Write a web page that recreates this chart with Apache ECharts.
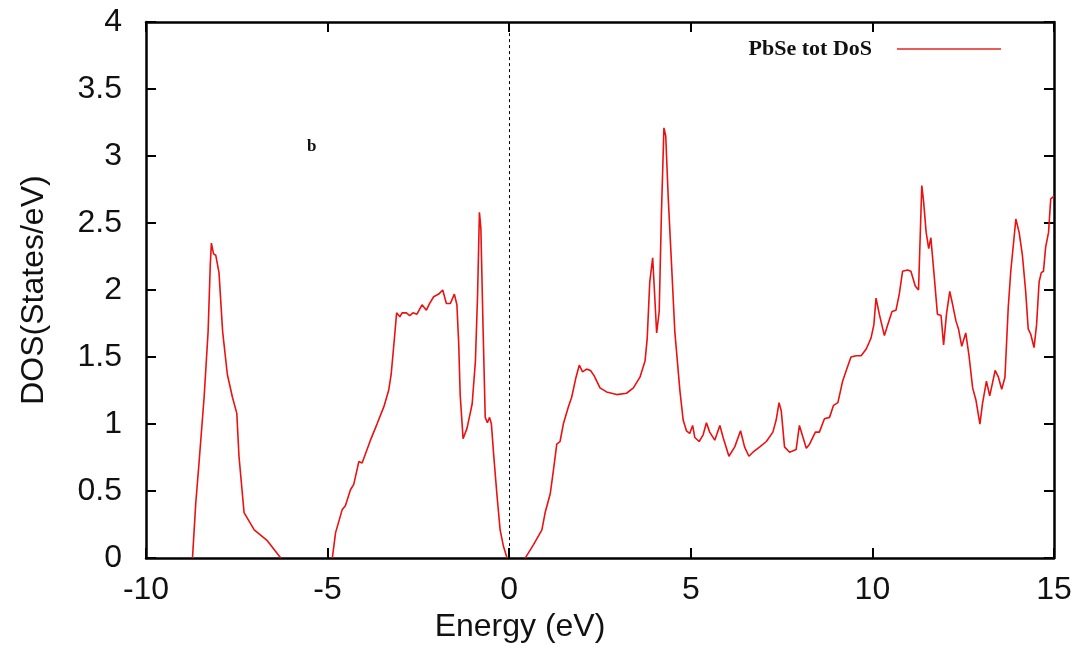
<!DOCTYPE html>
<html>
<head>
<meta charset="utf-8">
<script src="https://cdn.jsdelivr.net/npm/echarts@6/dist/echarts.min.js"></script>
<style>
html,body{margin:0;padding:0;background:#fff;}
#chart{width:1088px;height:648px;}
</style>
</head>
<body>
<div id="chart"></div>
<script>
// Energy (eV) and total DOS (States/eV); null separates band segments
const energy = [
  -8.72,-8.63,-8.54,-8.40,-8.29,-8.23,-8.20,-8.14,-8.08,-7.99,-7.89,-7.76,-7.62,-7.50,-7.44,-7.30,-7.02,-6.66,-6.29,
  -5.60,
  -4.87,-4.78,-4.60,-4.51,-4.37,-4.28,-4.14,-4.05,-3.82,-3.64,-3.45,-3.32,-3.25,-3.16,-3.10,-3.07,-3.01,-2.95,-2.83,-2.74,
  -2.65,-2.54,-2.40,-2.28,-2.19,-2.08,-1.94,-1.83,-1.73,-1.62,-1.51,-1.44,-1.39,-1.35,-1.27,-1.16,-1.02,-0.93,-0.87,-0.82,
  -0.78,-0.72,-0.66,-0.60,-0.54,-0.49,-0.43,-0.34,-0.25,-0.16,-0.06,
  0.20,
  0.44,0.67,0.90,0.99,1.13,1.22,1.31,1.40,1.49,1.63,1.72,1.84,1.93,2.02,2.13,2.24,2.34,2.50,2.68,2.96,
  3.23,3.42,3.60,3.74,3.80,3.87,3.95,3.99,4.06,4.13,4.19,4.26,4.31,4.38,4.47,4.56,4.70,4.79,4.88,4.97,
  5.05,5.11,5.23,5.34,5.43,5.52,5.66,5.80,5.89,6.05,6.21,6.37,6.48,6.60,6.71,6.90,7.08,7.26,7.35,7.43,
  7.49,7.58,7.72,7.90,7.99,8.09,8.18,8.27,8.43,8.54,8.68,8.82,8.93,9.05,9.18,9.28,9.41,9.55,9.69,9.83,
  9.96,10.04,10.10,10.19,10.33,10.42,10.54,10.65,10.74,10.83,10.97,11.06,11.18,11.27,11.36,11.41,11.48,11.55,11.61,11.70,
  11.79,11.89,11.96,12.04,12.13,12.21,12.30,12.37,12.46,12.57,12.66,12.76,12.85,12.96,13.03,13.14,13.23,13.38,13.47,13.56,
  13.65,13.74,13.81,13.95,14.04,14.13,14.22,14.29,14.36,14.45,14.52,14.59,14.65,14.71,14.77,14.85,14.91,15.00
];
const dos = [
  0,0.41,0.71,1.20,1.69,2.19,2.35,2.27,2.26,2.13,1.69,1.37,1.20,1.08,0.76,0.34,0.21,0.13,0,
  null,
  0,0.19,0.36,0.39,0.51,0.55,0.72,0.71,0.88,1.00,1.13,1.25,1.37,1.64,1.83,1.83,1.80,1.83,1.83,1.81,
  1.83,1.82,1.89,1.85,1.90,1.95,1.97,2.00,1.90,1.90,1.97,1.89,1.60,1.22,0.89,0.97,1.15,1.47,1.97,2.58,
  2.46,1.72,1.05,1.01,1.05,1.00,0.78,0.48,0.21,0.09,0,
  null,
  0,0.10,0.21,0.34,0.48,0.66,0.85,0.87,1.00,1.13,1.20,1.35,1.44,1.39,1.41,1.40,1.36,1.27,1.24,1.22,
  1.23,1.27,1.35,1.47,1.64,2.06,2.24,2.04,1.68,1.84,2.56,3.21,3.15,2.68,2.19,1.69,1.25,1.03,0.95,0.93,
  0.99,0.90,0.87,0.92,1.01,0.94,0.88,0.99,0.90,0.76,0.83,0.95,0.83,0.76,0.79,0.83,0.87,0.94,1.03,1.16,
  1.10,0.83,0.79,0.81,0.99,0.90,0.82,0.85,0.94,0.94,1.04,1.05,1.14,1.16,1.32,1.40,1.50,1.51,1.51,1.56,
  1.64,1.74,1.94,1.82,1.66,1.74,1.84,1.85,1.97,2.14,2.15,2.14,2.03,2.00,2.78,2.66,2.43,2.31,2.39,2.11,
  1.82,1.81,1.59,1.82,1.99,1.89,1.77,1.71,1.58,1.68,1.51,1.27,1.18,1.00,1.15,1.32,1.21,1.40,1.35,1.26,
  1.35,1.87,2.14,2.53,2.43,2.26,1.99,1.71,1.67,1.57,1.74,2.06,2.13,2.14,2.32,2.43,2.68,2.70
];
const xTicks = { min: -10, max: 15, interval: 5 };
const yTicks = { min: 0, max: 4, interval: 0.5 };
const seriesName = 'PbSe tot DoS';
const panelLabel = 'b';

const points = energy.map((e, i) => [e, dos[i]]);

const chart = echarts.init(document.getElementById('chart'), null, { renderer: 'canvas' });
const axisLineStyle = { color: '#000', width: 2.5 };
const tickStyle = { inside: true, length: 10, lineStyle: { color: '#000', width: 2 } };
const labelFont = { fontFamily: 'Liberation Sans, Arial, sans-serif', fontSize: 32, color: '#111' };

chart.setOption({
  animation: false,
  backgroundColor: '#fff',
  grid: { left: 146, right: 34, top: 22, bottom: 86, containLabel: false },
  legend: {
    data: [{ name: seriesName, icon: 'rect' }],
    right: 82,
    top: 33,
    align: 'right',
    itemWidth: 104,
    itemHeight: 2,
    itemStyle: { color: '#ee5a5a', borderWidth: 0 },
    textStyle: { fontFamily: 'Liberation Serif, Times New Roman, serif', fontWeight: 'bold', fontSize: 22, color: '#111', padding: [0, 20, 0, 0] }
  },
  graphic: [{
    type: 'text', left: 307, top: 138,
    style: { text: panelLabel, font: 'bold 17px "Liberation Serif", serif', fill: '#111' }
  }],
  xAxis: [{
    type: 'value', position: 'bottom', min: xTicks.min, max: xTicks.max, interval: xTicks.interval,
    axisLine: { show: true, onZero: false, lineStyle: axisLineStyle },
    axisTick: tickStyle,
    splitLine: { show: false },
    axisLabel: Object.assign({ margin: 16 }, labelFont),
    name: 'Energy (eV)', nameLocation: 'middle', nameGap: 44,
    nameTextStyle: Object.assign({ padding: [0, 160, 0, 0] }, labelFont)
  }, {
    type: 'value', position: 'top', min: xTicks.min, max: xTicks.max, interval: xTicks.interval,
    axisLine: { show: true, onZero: false, lineStyle: axisLineStyle },
    axisTick: tickStyle, axisLabel: { show: false }, splitLine: { show: false }
  }],
  yAxis: [{
    type: 'value', position: 'left', min: yTicks.min, max: yTicks.max, interval: yTicks.interval,
    axisLine: { show: true, onZero: false, lineStyle: axisLineStyle },
    axisTick: tickStyle,
    splitLine: { show: false },
    axisLabel: Object.assign({ margin: 24 }, labelFont),
    name: 'DOS(States/eV)', nameLocation: 'middle', nameGap: 96,
    nameTextStyle: labelFont
  }, {
    type: 'value', position: 'right', min: yTicks.min, max: yTicks.max, interval: yTicks.interval,
    axisLine: { show: true, onZero: false, lineStyle: axisLineStyle },
    axisTick: tickStyle, axisLabel: { show: false }, splitLine: { show: false }
  }],
  series: [{
    name: seriesName,
    type: 'line',
    data: points,
    xAxisIndex: 0, yAxisIndex: 0,
    showSymbol: false, symbol: 'none',
    connectNulls: false,
    lineStyle: { color: '#ec1111', width: 1.6 },
    itemStyle: { color: '#ec1111' },
    markLine: {
      silent: true, symbol: 'none', label: { show: false },
      lineStyle: { color: '#000', width: 1, type: [3, 3] },
      data: [{ xAxis: 0 }]
    },
    z: 3
  }]
});
</script>
</body>
</html>
